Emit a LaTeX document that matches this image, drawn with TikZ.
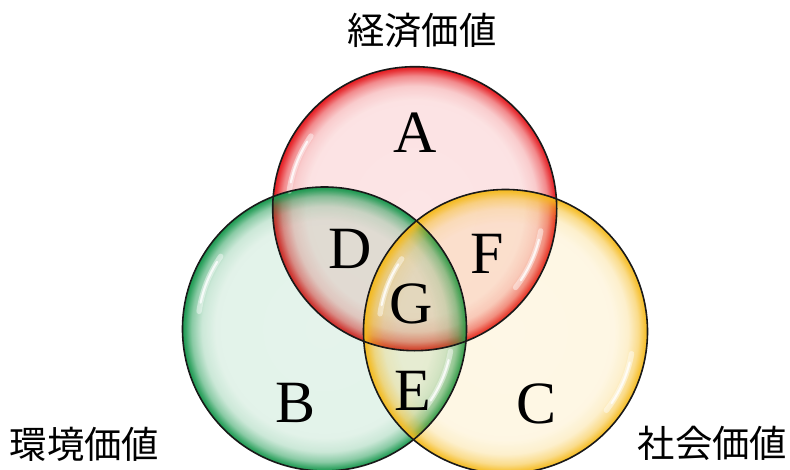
\documentclass[tikz,border=0pt]{standalone}
\usepackage{fontspec}
\setmainfont{Liberation Serif}
\newfontfamily\jp{Noto Sans CJK JP}
\usetikzlibrary{fadings,calc}
\definecolor{cred}{RGB}{228,20,25}
\definecolor{cgreen}{RGB}{20,150,75}
\definecolor{cyellow}{RGB}{245,185,25}
\pgfdeclareradialshading{rimfadeshading}{\pgfpointorigin}{color(0bp)=(black!89); color(19bp)=(black!88); color(21.5bp)=(black!78); color(23.3bp)=(black!50); color(24.4bp)=(black!15); color(25bp)=(black!0); color(50bp)=(black!0)}
\pgfdeclarefading{rimfade}{\pgfuseshading{rimfadeshading}}
\tikzset{
  rim/.style={draw=black!90, line width=1.2pt},
  hl/.style={draw=white, line width=4pt, line cap=round, opacity=0.45},
  hlc/.style={draw=white, line width=1.6pt, line cap=round, opacity=0.8},
  letter/.style={font=\fontsize{45}{50}\selectfont, anchor=base, inner sep=0pt},
  jlabel/.style={font=\jp\fontsize{28}{32}\selectfont, inner sep=0pt}
}
\begin{document}
\begin{tikzpicture}[x=0.75pt,y=0.75pt]
\clip (0,0) rectangle (790,469);
\coordinate (red) at (414.7,260.3);
\coordinate (green) at (324.5,140);
\coordinate (yellow) at (505.5,137.5);
% fills
\foreach \c/\col in {red/cred,green/cgreen,yellow/cyellow}{
  \fill[\col, path fading=rimfade] (\c) circle[radius=106.5pt];
}
% highlights
\foreach \c in {red,green,yellow}{
  \draw[hl] ($(\c)+(145:95pt)$) arc[start angle=145, end angle=172, radius=95pt];
  \draw[hlc] ($(\c)+(148:95pt)$) arc[start angle=148, end angle=168, radius=95pt];
  \draw[hl] ($(\c)+(-10:96pt)$) arc[start angle=-10, end angle=-38, radius=96pt];
  \draw[hlc] ($(\c)+(-14:96pt)$) arc[start angle=-14, end angle=-34, radius=96pt];
}
% outlines
\foreach \c in {red,green,yellow}{
  \draw[rim] (\c) circle[radius=106.5pt];
}
% letters
\node[letter] (A) at (415,317) {A};
\node[letter] (D) at (350,201) {D};
\node[letter] (F) at (487,196) {F};
\node[letter] (G) at (411,146) {G};
\node[letter] (B) at (296,47) {B};
\node[letter] (E) at (413,59) {E};
\node[letter] (C) at (537,46) {C};
% labels
\node[jlabel] (econ) at (421.7,439) {経済価値};
\node[jlabel] (env) at (84.5,25) {環境価値};
\node[jlabel] (soc) at (712.5,26) {社会価値};
\end{tikzpicture}
\end{document}
